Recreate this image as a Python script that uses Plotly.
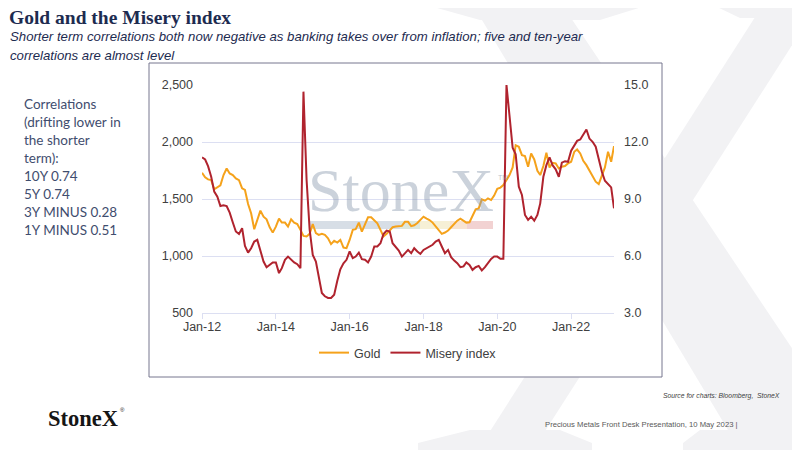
import pandas as pd
import plotly.graph_objects as go

# month-end values, Jan-2012 .. Mar-2023
dates = pd.date_range("2012-01-01", periods=135, freq="MS")

gold = [
    1730, 1690, 1672, 1666, 1585, 1602, 1620, 1710, 1768, 1724, 1710, 1681,
    1666, 1593, 1579, 1456, 1375, 1235, 1322, 1398, 1345, 1322, 1252, 1205,
    1258, 1328, 1293, 1293, 1258, 1322, 1293, 1281, 1229, 1176, 1171, 1194,
    1281, 1200, 1185, 1194, 1185, 1156, 1104, 1133, 1118, 1141, 1074, 1069,
    1141, 1229, 1235, 1293, 1214, 1287, 1340, 1340, 1310, 1287, 1229, 1171,
    1194, 1229, 1252, 1258, 1258, 1264, 1300, 1300, 1262, 1270, 1290, 1320,
    1345, 1328, 1316, 1293, 1258, 1223, 1194, 1206, 1223, 1252, 1281, 1310,
    1328, 1310, 1293, 1296, 1360, 1410, 1418, 1497, 1485, 1506, 1491, 1530,
    1590, 1600, 1622, 1672, 1710, 1777, 1972, 1958, 1885, 1876, 1783, 1900,
    1847, 1748, 1710, 1789, 1905, 1777, 1818, 1812, 1768, 1783, 1789, 1812,
    1827, 1914, 1934, 1900, 1835, 1797, 1748, 1696, 1652, 1631, 1701, 1777,
    1914, 1827, 1964,
]

misery = [
    11.19, 11.08, 10.73, 10.17, 9.39, 9.12, 8.63, 8.67, 8.63, 8.28, 7.76, 7.29,
    7.16, 7.46, 6.53, 6.18, 6.41, 6.76, 6.85, 6.29, 5.71, 5.41, 5.54, 5.66,
    5.66, 5.10, 5.36, 5.80, 5.97, 5.80, 5.66, 5.57, 5.36, 14.65, 10.0, 7.4,
    6.06, 5.71, 4.92, 4.05, 3.88, 3.79, 3.79, 3.96, 4.70, 5.30, 5.62, 5.80,
    6.24, 5.89, 5.97, 6.18, 5.83, 5.80, 5.66, 5.97, 6.50, 6.50, 6.67, 7.16,
    7.34, 7.29, 6.67, 6.50, 6.29, 5.97, 6.15, 6.32, 6.15, 6.41, 6.24, 6.11,
    6.32, 6.41, 6.50, 6.59, 6.76, 6.85, 6.50, 6.15, 6.32, 5.94, 5.76, 5.62,
    5.41, 5.45, 5.66, 5.53, 5.27, 5.41, 5.48, 5.24, 5.41, 5.66, 5.85, 5.97,
    5.97, 5.85, 5.85, 15.0, 13.4, 11.7, 11.35, 9.65, 9.21, 8.16, 7.90, 8.07,
    7.86, 8.16, 8.77, 10.17, 10.78, 11.19, 10.78, 10.56, 10.17, 10.91, 10.99, 10.96,
    11.54, 11.78, 12.06, 12.13, 12.36, 12.66, 12.18, 12.01, 11.75, 11.05, 10.43, 9.96,
    9.79, 9.61, 8.51,
]

correl_lines = [
    "Correlations",
    "(drifting lower in",
    "the shorter",
    "term):",
    "10Y 0.74",
    "5Y 0.74",
    "3Y MINUS 0.28",
    "1Y MINUS 0.51",
]

W, H = 800, 450
OFF = 8  # page body margin, the figure sits 8px in from the window corner


def px(x):
    return (x - OFF) / W


def py(y):
    return 1 - (y - OFF) / H


def poly(points):
    # pixel points -> svg path in paper coords
    s = "M " + " L ".join(f"{px(a):.4f},{py(b):.4f}" for a, b in points)
    return s + " Z"


fig = go.Figure()
fig.add_trace(go.Scatter(x=dates, y=gold, name="Gold", mode="lines",
                         line=dict(color="#f5a21b", width=2)))
fig.add_trace(go.Scatter(x=dates, y=misery, name="Misery index", mode="lines",
                         line=dict(color="#b0232e", width=2), yaxis="y2"))

grid = "#dcdff2"
tickfont = dict(family="Liberation Sans, Arial", size=12.5, color="#404040")
navy = "#1d2b50"
sub_font = dict(family="Liberation Sans", size=13.2, color=navy)

# big faint X in the background + white chart box
xc = "#f2f2f4"
x_parts = [
    [(470, 0), (559, 0), (860, 450), (740, 450)],
    [(430, -5), (645, -5), (645, 6), (600, 20), (480, 20), (430, 6)],
    [(766, 0), (821, 0), (533, 450), (478, 450)],
    [(715, -5), (820, -5), (820, 8), (800, 18), (740, 18), (715, 6)],
    [(418, 460), (592, 460), (592, 443), (560, 430), (470, 430), (418, 443)],
    [(683, 460), (820, 460), (820, 443), (790, 430), (700, 430), (683, 443)],
]
shapes = [dict(type="path", path=poly(p), xref="paper", yref="paper",
               fillcolor=xc, line=dict(width=0), layer="below") for p in x_parts]
shapes.append(dict(type="rect", xref="paper", yref="paper",
                   x0=px(149), x1=px(662), y0=py(377), y1=py(63),
                   fillcolor="white", line=dict(color="#77778f", width=1),
                   layer="below"))
# coloured bar under the StoneX watermark
for x0, x1, c in [(310, 400, "#d7dee6"), (400, 420, "#dde8dc"),
                  (420, 450, "#f6f0d6"), (450, 467, "#f8e3d3"),
                  (467, 493, "#f2d2d2")]:
    shapes.append(dict(type="rect", xref="paper", yref="paper",
                       x0=px(x0), x1=px(x1), y0=py(229), y1=py(221),
                       fillcolor=c, line=dict(width=0), layer="below"))

annotations = [
    dict(text="<b>Gold and the Misery index</b>", x=px(7), y=py(17),
         font=dict(family="Liberation Serif", size=19.5, color=navy)),
    dict(text="<i>Shorter term correlations both now negative as banking takes over from inflation; five and ten-year</i>",
         x=px(8), y=py(37), font=sub_font),
    dict(text="<i>correlations are almost level</i>", x=px(8), y=py(55), font=sub_font),
    dict(text="StoneX", x=px(401), y=py(190), xanchor="center",
         font=dict(family="Liberation Serif", size=62, color="rgba(140,155,175,0.45)")),
    dict(text="TM", x=px(496), y=py(177),
         font=dict(family="Liberation Sans", size=7, color="rgba(140,155,175,0.6)")),
    dict(text="<i>Source for charts: Bloomberg,  StoneX</i>", x=px(782), y=py(396),
         xanchor="right",
         font=dict(family="Liberation Sans", size=6.8, color="#404040")),
    dict(text="<b>StoneX</b>", x=px(46), y=py(418),
         font=dict(family="Liberation Serif", size=22.5, color="#151515")),
    dict(text="®", x=px(118), y=py(410),
         font=dict(family="Liberation Sans", size=6, color="#151515")),
    dict(text="Precious Metals Front Desk Presentation, 10 May 2023 |", x=px(543), y=py(424),
         font=dict(family="Liberation Sans", size=7.7, color="#595959")),
]
for i, line in enumerate(correl_lines):
    annotations.append(dict(text=line, x=px(22), y=py(104 + 18 * i),
                            font=dict(family="Lato", size=13.5, color="#3f4d6e")))
for a in annotations:
    a.setdefault("xref", "paper")
    a.setdefault("yref", "paper")
    a.setdefault("xanchor", "left")
    a.setdefault("yanchor", "middle")
    a.setdefault("showarrow", False)

fig.update_layout(
    width=W, height=H,
    margin=dict(l=0, r=0, t=0, b=0, autoexpand=False),
    paper_bgcolor="white",
    plot_bgcolor="rgba(0,0,0,0)",
    shapes=shapes,
    annotations=annotations,
    showlegend=True,
    legend=dict(orientation="h", x=px(408), xanchor="center", y=py(353),
                yanchor="middle", bgcolor="rgba(0,0,0,0)",
                font=dict(family="Liberation Sans, Arial", size=12.5, color="#404040")),
    xaxis=dict(domain=[px(202), px(614)], type="date",
               range=[dates[0], dates[-1]], tick0="2012-01-01", dtick="M24",
               tickformat="%b-%y", ticks="outside", ticklen=5, tickcolor=grid,
               ticklabelstandoff=-3,
               showline=True, linecolor=grid, showgrid=False, tickfont=tickfont,
               automargin=False),
    yaxis=dict(domain=[py(313), py(85)], range=[500, 2500], dtick=500,
               tickformat=",", gridcolor=grid, zeroline=False, tickfont=tickfont,
               ticklabelstandoff=8, automargin=False),
    yaxis2=dict(overlaying="y", side="right", range=[3, 15], dtick=3,
                tickformat=".1f", showgrid=False, zeroline=False, tickfont=tickfont,
                ticklabelstandoff=9, automargin=False),
)

fig.write_html("out.html")
